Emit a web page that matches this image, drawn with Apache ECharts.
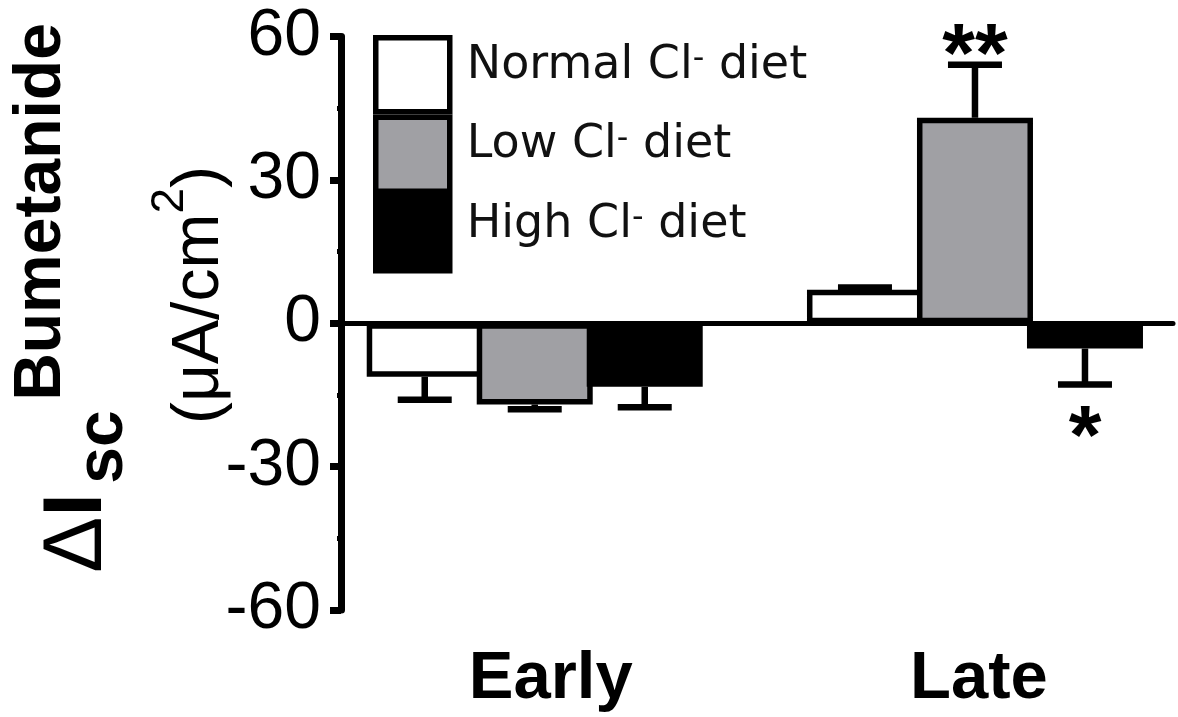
<!DOCTYPE html>
<html>
<head>
<meta charset="utf-8">
<script src="https://cdn.jsdelivr.net/npm/echarts@6/dist/echarts.min.js"></script>
<style>
html,body{margin:0;padding:0;background:#fff;overflow:hidden;width:1178px;height:717px;}
#chart{width:1200px;height:717px;}
</style>
</head>
<body>
<div id="chart"></div>
<script>
// ---- data ----
var categories = ['Early', 'Late'];
var seriesNames = ['Normal Cl\u207B diet', 'Low Cl\u207B diet', 'High Cl\u207B diet'];
var normalMean = [-11.2, 7.0];
var normalSem  = [4.8, 0.5];
var lowMean    = [-17.0, 43.0];
var lowSem     = [1.0, 11.1];
var highMean   = [-13.3, -5.3];
var highSem    = [4.3, 7.5];
var normalSig  = ['', ''];
var lowSig     = ['', '**'];
var highSig    = ['', '*'];
var yTicks = [-60, -30, 0, 30, 60];

var means = [normalMean, lowMean, highMean];
var sems = [normalSem, lowSem, highSem];
var sigs = [normalSig, lowSig, highSig];
var fills = ['#ffffff', '#a0a0a4', '#000000'];

var BAR_W = 116;
var BAR_OVERLAP = 6;
var BAR_STEP = BAR_W - BAR_OVERLAP;
var FONT = '"Liberation Sans", Arial, sans-serif';
var LFONT = '"DejaVu Sans", sans-serif';

var chart = echarts.init(document.getElementById('chart'));

var series = [];
means.forEach(function (m, k) {
  series.push({
    name: seriesNames[k],
    type: 'bar',
    xAxisIndex: 1, yAxisIndex: 1,
    data: m,
    barWidth: BAR_W,
    barGap: (-BAR_OVERLAP / BAR_W * 100) + '%',
    itemStyle: {color: fills[k], borderColor: '#000', borderWidth: 5.5},
    z: 3,
    silent: true
  });
});
means.forEach(function (m, k) {
  var data = m.map(function (v, i) {
    var s = v >= 0 ? 1 : -1;
    return [i, v, v + s * sems[k][i], sigs[k][i]];
  });
  series.push({
    name: 'err' + k,
    type: 'custom',
    xAxisIndex: 1, yAxisIndex: 1,
    z: 2,
    silent: true,
    data: data,
    encode: {x: 0, y: [1, 2]},
    renderItem: function (params, api) {
      var ci = api.value(0);
      var v = api.value(1);
      var e = api.value(2);
      var sig = data[params.dataIndex][3];
      var dx = (k - 1) * BAR_STEP;
      var p0 = api.coord([ci, v]);
      var p1 = api.coord([ci, e]);
      var x = p0[0] + dx;
      var capHalf = 27;
      var children = [
        {type: 'line', shape: {x1: x, y1: p0[1], x2: x, y2: p1[1]}, style: {stroke: '#000', lineWidth: 6.5}},
        {type: 'line', shape: {x1: x - capHalf, y1: p1[1], x2: x + capHalf, y2: p1[1]}, style: {stroke: '#000', lineWidth: 6.5}}
      ];
      if (sig) {
        var ty = e >= 0 ? p1[1] - 6 : p1[1] + 56;
        children.push({type: 'text', style: {text: sig, x: x, y: ty, align: 'center', verticalAlign: 'middle',
          font: 'bold 84px ' + FONT, fill: '#000'}});
      }
      return {type: 'group', children: children};
    }
  });
});

var option = {
  animation: false,
  backgroundColor: '#fff',
  grid: [
    {left: 341, right: 27, top: 36.5, bottom: 107},
    {left: 314.6, width: 880.5, top: 36.5, bottom: 107}
  ],
  legend: {
    data: seriesNames,
    orient: 'vertical',
    left: 373, top: 35,
    padding: 0,
    itemWidth: 74, itemHeight: 74, itemGap: 0,
    icon: 'rect',
    selectedMode: false,
    itemStyle: {borderColor: '#000', borderWidth: 5.5},
    formatter: function (name) { return '{n|' + name.replace('\u207B', '}{s|-}{n|') + '}'; },
    textStyle: {fontFamily: LFONT, fontSize: 46, lineHeight: 44, color: '#111', padding: [0, 0, 18, 12],
      rich: {
        n: {fontFamily: LFONT, fontSize: 46, lineHeight: 44, color: '#111'},
        s: {fontFamily: LFONT, fontSize: 32, lineHeight: 14, color: '#111', verticalAlign: 'top'}
      }}
  },
  xAxis: [
    {gridIndex: 0, type: 'value', min: 0, max: 1,
      axisLine: {show: true, onZero: true, lineStyle: {color: '#000', width: 5}},
      axisTick: {show: false}, axisLabel: {show: false}, splitLine: {show: false}},
    {gridIndex: 1, type: 'category', data: categories,
      axisLine: {show: false, onZero: false}, axisTick: {show: false}, splitLine: {show: false},
      axisLabel: {margin: 36, color: '#000', fontFamily: FONT, fontWeight: 'bold', fontSize: 67,
        formatter: function (v) { return v === 'Early' ? '{e|' + v + '}' : '{l|' + v + '}'; },
        rich: {
          e: {fontFamily: FONT, fontWeight: 'bold', fontSize: 67, color: '#000', padding: [0, 0, 0, 32]},
          l: {fontFamily: FONT, fontWeight: 'bold', fontSize: 67, color: '#000', padding: [0, 0, 0, 8]}
        }}}
  ],
  yAxis: [
    {gridIndex: 0, type: 'value', min: yTicks[0], max: yTicks[yTicks.length - 1], interval: 30,
      axisLine: {show: true, lineStyle: {color: '#000', width: 7}},
      axisTick: {show: true, length: 11, lineStyle: {color: '#000', width: 7}},
      minorTick: {show: true, splitNumber: 2, length: 4, lineStyle: {color: '#000', width: 5}},
      axisLabel: {margin: 20, color: '#000', fontFamily: FONT, fontSize: 66},
      splitLine: {show: false}},
    {gridIndex: 1, type: 'value', min: yTicks[0], max: yTicks[yTicks.length - 1], interval: 30, show: false}
  ],
  series: series,
  graphic: [
    {type: 'text', x: 42, y: 212, rotation: Math.PI / 2,
      style: {text: 'Bumetanide', font: 'bold 66px ' + FONT, fill: '#000', align: 'center', verticalAlign: 'middle'}},
    {type: 'text', x: 78, y: 533, rotation: Math.PI / 2,
      style: {text: '{d|\u0394}{i|I}', align: 'center', verticalAlign: 'middle',
        rich: {d: {fontFamily: FONT, fontSize: 84, fill: '#000'}, i: {fontFamily: FONT, fontWeight: 'bold', fontSize: 84, fill: '#000'}}}},
    {type: 'text', x: 104, y: 447, rotation: Math.PI / 2,
      style: {text: 'sc', font: 'bold 66px ' + FONT, fill: '#000', align: 'center', verticalAlign: 'middle'}},
    {type: 'text', x: 190, y: 295, rotation: Math.PI / 2,
      style: {text: '{a|(\u03BCA/cm}{b|2}{a|)}', align: 'center', verticalAlign: 'middle',
        rich: {a: {fontFamily: FONT, fontSize: 66, lineHeight: 86, verticalAlign: 'bottom', fill: '#000'},
               b: {fontFamily: FONT, fontSize: 46, lineHeight: 46, verticalAlign: 'top', fill: '#000'}}}}
  ]
};
chart.setOption(option);
</script>
</body>
</html>
